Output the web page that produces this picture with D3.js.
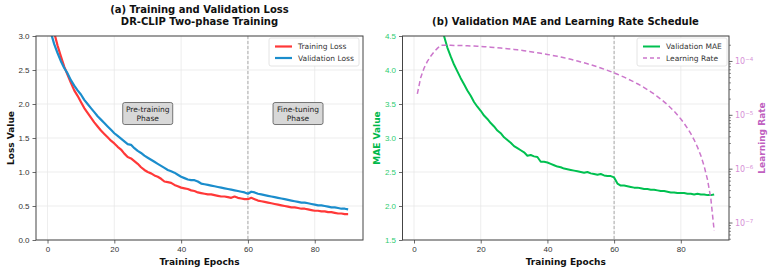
<!DOCTYPE html>
<html>
<head>
<meta charset="utf-8">
<script src="https://cdn.jsdelivr.net/npm/d3@7"></script>
<style>
  body { margin: 0; background: #fff; }
  svg { font-family: "DejaVu Sans", sans-serif; }
  .tick text { fill: #333; }
</style>
</head>
<body>
<div id="chart"></div>
<script>
// values, epoch 1..90
var trainLoss = [3.25,3.05,2.86,2.70,2.55,2.43,2.31,2.20,2.12,2.03,
  1.94,1.87,1.80,1.73,1.67,1.61,1.56,1.51,1.46,1.42,
  1.37,1.33,1.27,1.22,1.20,1.16,1.12,1.07,1.03,1.00,
  0.98,0.95,0.93,0.90,0.86,0.85,0.84,0.81,0.79,0.77,
  0.76,0.75,0.73,0.72,0.70,0.69,0.68,0.67,0.67,0.66,
  0.65,0.64,0.64,0.63,0.62,0.64,0.62,0.61,0.60,0.60,
  0.62,0.60,0.58,0.57,0.56,0.55,0.54,0.53,0.52,0.51,
  0.50,0.49,0.48,0.48,0.47,0.46,0.46,0.45,0.44,0.43,
  0.43,0.42,0.42,0.41,0.41,0.40,0.39,0.39,0.38,0.38];
var valLoss = [3.05,2.88,2.75,2.63,2.53,2.45,2.35,2.27,2.20,2.14,
  2.06,2.00,1.94,1.88,1.82,1.77,1.72,1.67,1.62,1.57,
  1.53,1.49,1.45,1.41,1.40,1.35,1.31,1.28,1.24,1.21,
  1.18,1.15,1.12,1.09,1.06,1.03,1.01,0.99,0.96,0.93,
  0.91,0.89,0.88,0.88,0.86,0.83,0.82,0.81,0.80,0.79,
  0.78,0.77,0.76,0.75,0.74,0.73,0.72,0.71,0.70,0.68,
  0.71,0.70,0.68,0.67,0.66,0.65,0.64,0.63,0.62,0.61,
  0.60,0.59,0.58,0.57,0.56,0.55,0.55,0.54,0.53,0.52,
  0.51,0.51,0.50,0.49,0.48,0.48,0.47,0.46,0.46,0.45];
var valMAE = [5.90,5.70,5.50,5.30,5.10,4.95,4.80,4.65,4.50,4.33,
  4.20,4.08,3.98,3.88,3.79,3.70,3.62,3.53,3.46,3.40,
  3.33,3.28,3.22,3.17,3.11,3.07,3.01,2.97,2.93,2.88,
  2.85,2.82,2.79,2.74,2.75,2.73,2.72,2.65,2.65,2.64,
  2.62,2.60,2.58,2.57,2.55,2.54,2.53,2.52,2.51,2.50,
  2.49,2.50,2.48,2.47,2.46,2.47,2.45,2.44,2.44,2.42,
  2.33,2.30,2.30,2.29,2.28,2.27,2.27,2.26,2.25,2.25,
  2.24,2.24,2.23,2.22,2.22,2.21,2.20,2.20,2.19,2.19,
  2.19,2.18,2.18,2.17,2.18,2.17,2.17,2.16,2.16,2.17];
var learningRate = [2.5e-5,5.0e-5,7.5e-5,1.0e-4,1.25e-4,1.5e-4,1.75e-4,2.0e-4,
  1.999e-4,1.997e-4,1.994e-4,1.989e-4,1.982e-4,1.974e-4,1.965e-4,1.955e-4,1.943e-4,1.929e-4,
  1.915e-4,1.899e-4,1.881e-4,1.863e-4,1.843e-4,1.822e-4,1.800e-4,1.777e-4,1.752e-4,1.727e-4,
  1.700e-4,1.673e-4,1.644e-4,1.615e-4,1.585e-4,1.555e-4,1.522e-4,1.489e-4,1.456e-4,1.422e-4,
  1.387e-4,1.352e-4,1.316e-4,1.280e-4,1.244e-4,1.207e-4,1.170e-4,1.132e-4,1.095e-4,1.057e-4,
  1.019e-4,9.81e-5,9.43e-5,9.05e-5,8.68e-5,8.30e-5,7.93e-5,7.56e-5,7.20e-5,6.84e-5,
  6.48e-5,6.13e-5,5.78e-5,5.44e-5,5.11e-5,4.78e-5,4.45e-5,4.15e-5,3.85e-5,3.56e-5,
  3.27e-5,3.00e-5,2.73e-5,2.48e-5,2.23e-5,2.00e-5,1.78e-5,1.57e-5,1.37e-5,1.19e-5,
  1.01e-5,8.54e-6,7.08e-6,5.75e-6,4.55e-6,3.49e-6,2.57e-6,1.79e-6,1.14e-6,6.4e-7,
  2.86e-7,7.2e-8];
var epochs = d3.range(1, 91);

var epochTicks = [0, 20, 40, 60, 80];
var lossTicks = [0, 0.5, 1.0, 1.5, 2.0, 2.5, 3.0];
var maeTicks = [1.5, 2.0, 2.5, 3.0, 3.5, 4.0, 4.5];
var lrTicks = [-7, -6, -5, -4];
var phaseSplit = 60;

var W = 770, H = 270;
var svg = d3.select('#chart').append('svg')
  .attr('width', W).attr('height', H);

var plotTop = 36, plotBottom = 240;
var xDomain = [-3.45, 94.45];

function drawGrid(g, x, y, yt) {
  g.selectAll('.vg').data(epochTicks).enter().append('line')
    .attr('x1', d => x(d)).attr('x2', d => x(d))
    .attr('y1', plotTop).attr('y2', plotBottom)
    .attr('stroke', '#e8e8e8').attr('stroke-width', 0.8);
  g.selectAll('.hg').data(yt).enter().append('line')
    .attr('y1', d => y(d)).attr('y2', d => y(d))
    .attr('x1', x.range()[0]).attr('x2', x.range()[1])
    .attr('stroke', '#e8e8e8').attr('stroke-width', 0.8);
}

function styleAxis(a, color) {
  a.select('.domain').remove();
  a.selectAll('.tick line').attr('stroke', '#444').attr('stroke-width', 0.8);
  a.selectAll('.tick text').attr('font-size', 8).style('fill', color || '#333');
}

function frame(g, x0, x1) {
  g.append('rect').attr('x', x0).attr('y', plotTop)
    .attr('width', x1 - x0).attr('height', plotBottom - plotTop)
    .attr('fill', 'none').attr('stroke', '#444').attr('stroke-width', 1);
}

function bottomAxis(g, x) {
  var a = g.append('g').attr('transform', 'translate(0,' + plotBottom + ')')
    .call(d3.axisBottom(x).tickValues(epochTicks).tickSize(3.5).tickPadding(3).tickFormat(d3.format('d')));
  styleAxis(a);
  g.append('text').attr('x', (x.range()[0] + x.range()[1]) / 2).attr('y', 264.5)
    .attr('text-anchor', 'middle').attr('font-size', 9).attr('font-weight', 'bold')
    .attr('fill', '#111').text('Training Epochs');
}

function phaseLine(g, x) {
  g.append('line').attr('x1', x(phaseSplit)).attr('x2', x(phaseSplit))
    .attr('y1', plotTop).attr('y2', plotBottom)
    .attr('stroke', '#999').attr('stroke-width', 0.8).attr('stroke-dasharray', '3,2');
}

function legend(g, x0, items) {
  var lg = g.append('g').attr('transform', 'translate(' + x0 + ',38)');
  lg.append('rect').attr('width', 90).attr('height', 28).attr('rx', 2)
    .attr('fill', '#fff').attr('fill-opacity', 0.9).attr('stroke', '#ddd').attr('stroke-width', 0.8);
  items.forEach(function(it, i) {
    var yy = 8.5 + i * 11.5;
    lg.append('line').attr('x1', 6).attr('x2', 23).attr('y1', yy).attr('y2', yy)
      .attr('stroke', it.color).attr('stroke-width', it.width)
      .attr('stroke-dasharray', it.dash || null);
    lg.append('text').attr('x', 29).attr('y', yy + 2.7).attr('font-size', 7.5)
      .attr('fill', '#333').text(it.label);
  });
}

// ---------- panel (a)
var xa = d3.scaleLinear().domain(xDomain).range([36, 363]);
var ya = d3.scaleLinear().domain([0, 3]).range([plotBottom, plotTop]);
var ga = svg.append('g');
drawGrid(ga, xa, ya, lossTicks);
phaseLine(ga, xa);

var clipA = svg.append('clipPath').attr('id', 'clipA');
clipA.append('rect').attr('x', 36).attr('y', plotTop).attr('width', 327).attr('height', plotBottom - plotTop);

var lineA = d3.line().x((d, i) => xa(epochs[i])).y(d => ya(d));
ga.append('path').datum(trainLoss).attr('d', lineA).attr('clip-path', 'url(#clipA)')
  .attr('fill', 'none').attr('stroke', '#ff3838').attr('stroke-width', 2.2).attr('stroke-linejoin', 'round');
ga.append('path').datum(valLoss).attr('d', lineA).attr('clip-path', 'url(#clipA)')
  .attr('fill', 'none').attr('stroke', '#1b8dcc').attr('stroke-width', 2.2).attr('stroke-linejoin', 'round');

// phase boxes
[[30, 1.86, 'Pre-training'], [75, 1.86, 'Fine-tuning']].forEach(function(p) {
  var cx = xa(p[0]), cy = ya(p[1]);
  ga.append('rect').attr('x', cx - 25).attr('y', cy - 11).attr('width', 50).attr('height', 22)
    .attr('rx', 2).attr('fill', '#d8d8d8').attr('stroke', '#555').attr('stroke-width', 0.8);
  ga.append('text').attr('x', cx).attr('y', cy - 1.5).attr('text-anchor', 'middle')
    .attr('font-size', 7.5).attr('fill', '#222').text(p[2]);
  ga.append('text').attr('x', cx).attr('y', cy + 7.5).attr('text-anchor', 'middle')
    .attr('font-size', 7.5).attr('fill', '#222').text('Phase');
});

var axA = ga.append('g').attr('transform', 'translate(36,0)')
  .call(d3.axisLeft(ya).tickValues(lossTicks).tickSize(3.5).tickPadding(3).tickFormat(d3.format('.1f')));
styleAxis(axA);
bottomAxis(ga, xa);
frame(ga, 36, 363);
legend(ga, 269, [
  {label: 'Training Loss', color: '#ff3838', width: 2.2},
  {label: 'Validation Loss', color: '#1b8dcc', width: 2.2}
]);
ga.append('text').attr('transform', 'translate(14,138) rotate(-90)')
  .attr('text-anchor', 'middle').attr('font-size', 9).attr('font-weight', 'bold')
  .attr('fill', '#111').text('Loss Value');
ga.append('text').attr('x', 199.5).attr('y', 13).attr('text-anchor', 'middle')
  .attr('font-size', 10).attr('font-weight', 'bold').attr('fill', '#111')
  .text('(a) Training and Validation Loss');
ga.append('text').attr('x', 199.5).attr('y', 24.7).attr('text-anchor', 'middle')
  .attr('font-size', 10).attr('font-weight', 'bold').attr('fill', '#111')
  .text('DR-CLIP Two-phase Training');

// ---------- panel (b)
var xb = d3.scaleLinear().domain(xDomain).range([402.5, 729]);
var yb = d3.scaleLinear().domain([1.5, 4.5]).range([plotBottom, plotTop]);
var yl = d3.scaleLog().domain([4.84e-8, 2.97e-4]).range([plotBottom, plotTop]);
var gb = svg.append('g');
drawGrid(gb, xb, yb, maeTicks);
phaseLine(gb, xb);

var clipB = svg.append('clipPath').attr('id', 'clipB');
clipB.append('rect').attr('x', 402.5).attr('y', plotTop).attr('width', 326.5).attr('height', plotBottom - plotTop);

gb.append('path').datum(valMAE)
  .attr('d', d3.line().x((d, i) => xb(epochs[i])).y(d => yb(d)))
  .attr('clip-path', 'url(#clipB)')
  .attr('fill', 'none').attr('stroke', '#00c050').attr('stroke-width', 2).attr('stroke-linejoin', 'round');
gb.append('path').datum(learningRate)
  .attr('d', d3.line().x((d, i) => xb(epochs[i])).y(d => yl(d)))
  .attr('clip-path', 'url(#clipB)')
  .attr('fill', 'none').attr('stroke', '#cc77cc').attr('stroke-width', 1.5)
  .attr('stroke-dasharray', '5,3');

var axB = gb.append('g').attr('transform', 'translate(402.5,0)')
  .call(d3.axisLeft(yb).tickValues(maeTicks).tickSize(3.5).tickPadding(3).tickFormat(d3.format('.1f')));
styleAxis(axB, '#2ecc71');
bottomAxis(gb, xb);

// log axis on the right: major + minor ticks
var minor = [];
[-8, -7, -6, -5, -4].forEach(function(p) {
  for (var m = 2; m <= 9; m++) {
    var v = m * Math.pow(10, p);
    if (v >= yl.domain()[0] && v <= yl.domain()[1]) minor.push(v);
  }
});
var gr = gb.append('g').attr('transform', 'translate(729,0)');
gr.selectAll('.mn').data(minor).enter().append('line')
  .attr('x1', 0).attr('x2', 2).attr('y1', d => yl(d)).attr('y2', d => yl(d))
  .attr('stroke', '#444').attr('stroke-width', 0.6);
var maj = gr.selectAll('.mj').data(lrTicks).enter().append('g')
  .attr('transform', d => 'translate(0,' + yl(Math.pow(10, d)) + ')');
maj.append('line').attr('x1', 0).attr('x2', 3.5).attr('stroke', '#444').attr('stroke-width', 0.8);
var lt = maj.append('text').attr('x', 6).attr('y', 3).attr('font-size', 8).attr('fill', '#d68fd6');
lt.append('tspan').text('10');
lt.append('tspan').attr('dy', -3.5).attr('font-size', 5.5).text(d => '\u2212' + Math.abs(d));

frame(gb, 402.5, 729);
legend(gb, 637, [
  {label: 'Validation MAE', color: '#00c050', width: 2},
  {label: 'Learning Rate', color: '#cc77cc', width: 1.5, dash: '4,3'}
]);
gb.append('text').attr('transform', 'translate(380,138) rotate(-90)')
  .attr('text-anchor', 'middle').attr('font-size', 9).attr('font-weight', 'bold')
  .attr('fill', '#00b84a').text('MAE Value');
gb.append('text').attr('transform', 'translate(765,138) rotate(-90)')
  .attr('text-anchor', 'middle').attr('font-size', 9).attr('font-weight', 'bold')
  .attr('fill', '#c060c0').text('Learning Rate');
gb.append('text').attr('x', 565.5).attr('y', 24.7).attr('text-anchor', 'middle')
  .attr('font-size', 10).attr('font-weight', 'bold').attr('fill', '#111')
  .text('(b) Validation MAE and Learning Rate Schedule');
</script>
</body>
</html>
